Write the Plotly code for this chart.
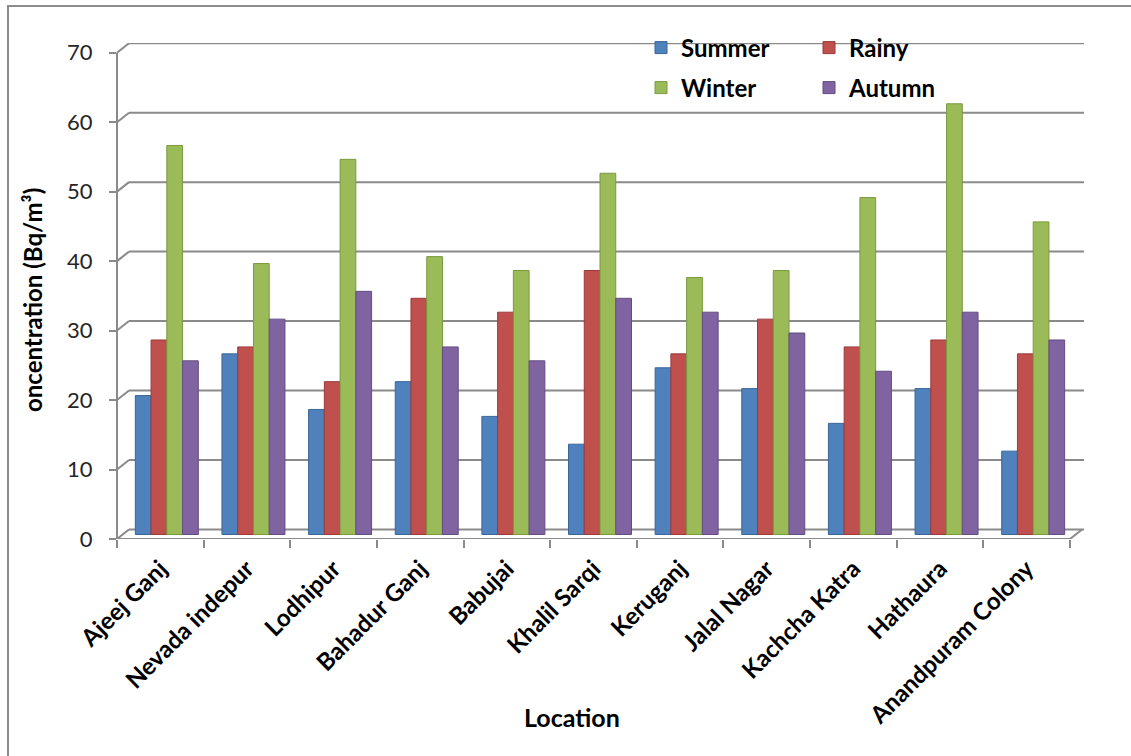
import plotly.graph_objects as go

# Indoor radon concentration by location and season (Bq/m³)
locations = ["Ajeej Ganj", "Nevada indepur", "Lodhipur", "Bahadur Ganj", "Babujai",
             "Khalil Sarqi", "Keruganj", "Jalal Nagar", "Kachcha Katra", "Hathaura",
             "Anandpuram Colony"]
summer = [20, 26, 18, 22, 17, 13, 24, 21, 16, 21, 12]
rainy = [28, 27, 22, 34, 32, 38, 26, 31, 27, 28, 26]
winter = [56, 39, 54, 40, 38, 52, 37, 38, 48.5, 62, 45]
autumn = [25, 31, 35, 27, 25, 34, 32, 29, 23.5, 32, 28]
y_ticks = [0, 10, 20, 30, 40, 50, 60, 70]

series = [
    ("Summer", summer, "#4F81BD", "#3A6699", "legend"),
    ("Rainy", rainy, "#C0504D", "#9A3B39", "legend"),
    ("Winter", winter, "#9BBB59", "#7A9A3E", "legend2"),
    ("Autumn", autumn, "#8064A2", "#634C82", "legend2"),
]

# page geometry (pixels)
W, H = 1131, 756
L, R, T, B = 117, 1084, 43, 539
PW, PH = R - L, B - T
n = len(locations)
front_end = 1070                      # right end of the front category axis
cat_px = (front_end - L) / n          # pixels per category
y_px = 486.3 / 70                     # pixels per unit on the value axis
depth_dx, depth_dy = 12, 9.5          # offset of the back wall
bar_dx, bar_dy = 6.5, 4.5             # bars sit half-way into the depth

x_rng = [-0.5, -0.5 + PW / cat_px]
y_rng = [0, PH / y_px]
xb_rng = [x_rng[0] - bar_dx / cat_px, x_rng[1] - bar_dx / cat_px]
yb_rng = [y_rng[0] - bar_dy / y_px, y_rng[1] - bar_dy / y_px]

GRID = "#8A8A8A"

fig = go.Figure()
xs = list(range(n))
for name, vals, col, edge, lg in series:
    fig.add_trace(go.Bar(
        x=xs, y=vals, name=name, xaxis="x2", yaxis="y2", legend=lg,
        marker=dict(color=col, line=dict(color=edge, width=1)),
    ))


def px_to_paper_x(px):
    return (px - L) / PW


def px_to_paper_y(py):
    return (B - py) / PH


shapes = []
# back-wall gridlines with the short diagonal joining them to the front axis
for v in y_ticks:
    shapes.append(dict(type="line", xref="paper", yref="y", ysizemode="pixel", yanchor=v,
                       x0=0, x1=depth_dx / PW, y0=0, y1=depth_dy,
                       line=dict(color=GRID, width=2), layer="below"))
    shapes.append(dict(type="line", xref="paper", yref="y", ysizemode="pixel", yanchor=v,
                       x0=depth_dx / PW, x1=1, y0=depth_dy, y1=depth_dy,
                       line=dict(color=GRID, width=2), layer="below"))
# floor: front edge and right-hand diagonal
shapes.append(dict(type="line", xref="x", yref="y", x0=-0.5, x1=n - 0.5, y0=0, y1=0,
                   line=dict(color=GRID, width=2)))
shapes.append(dict(type="line", xref="x", yref="y", ysizemode="pixel", yanchor=0,
                   x0=n - 0.5, x1=n - 0.5 + depth_dx / cat_px, y0=0, y1=depth_dy,
                   line=dict(color=GRID, width=2)))
# front value axis line
shapes.append(dict(type="line", xref="paper", yref="y", x0=0, x1=0, y0=0, y1=70,
                   line=dict(color=GRID, width=2)))
# chart frame (left and top edges)
shapes.append(dict(type="line", xref="paper", yref="paper",
                   x0=px_to_paper_x(8), x1=px_to_paper_x(8),
                   y0=px_to_paper_y(6), y1=px_to_paper_y(H + 5),
                   line=dict(color="#8C8C8C", width=2)))
shapes.append(dict(type="line", xref="paper", yref="paper",
                   x0=px_to_paper_x(7), x1=px_to_paper_x(W + 5),
                   y0=px_to_paper_y(6), y1=px_to_paper_y(6),
                   line=dict(color="#8C8C8C", width=2)))

FONT = "Lato"
LEG_FONT = dict(size=24, family=FONT, weight="bold", color="#000000")
fig.update_layout(
    width=W, height=H,
    margin=dict(l=L, r=W - R, t=T, b=H - B, pad=0),
    paper_bgcolor="white", plot_bgcolor="rgba(0,0,0,0)",
    barmode="group", bargap=0.273, bargroupgap=0,
    font=dict(family=FONT, color="#000000"),
    xaxis=dict(range=x_rng, tickmode="array", tickvals=xs, ticktext=locations,
               tickangle=-45, ticks="", showgrid=False, zeroline=False, showline=False,
               ticklabelstandoff=10,
               tickfont=dict(size=24, family=FONT, weight="bold", color="#000000"),
               minor=dict(tickmode="array", tickvals=[i - 0.5 for i in range(n + 1)],
                          ticks="outside", ticklen=8, tickwidth=2, tickcolor=GRID,
                          showgrid=False)),
    yaxis=dict(range=y_rng, tickmode="array", tickvals=y_ticks, ticks="outside",
               ticklen=7, tickwidth=2, tickcolor=GRID, showgrid=False, zeroline=False,
               showline=False, ticklabelstandoff=12,
               tickfont=dict(size=22, family=FONT, color="#262626")),
    xaxis2=dict(range=xb_rng, overlaying="x", visible=False),
    yaxis2=dict(range=yb_rng, overlaying="y", visible=False),
    legend=dict(orientation="h", x=px_to_paper_x(641), y=px_to_paper_y(48),
                xanchor="left", yanchor="middle", entrywidth=123, entrywidthmode="pixels",
                font=LEG_FONT, bgcolor="rgba(0,0,0,0)", itemclick=False),
    legend2=dict(orientation="h", x=px_to_paper_x(641), y=px_to_paper_y(88),
                 xanchor="left", yanchor="middle", entrywidth=123, entrywidthmode="pixels",
                 font=LEG_FONT, bgcolor="rgba(0,0,0,0)", itemclick=False),
    shapes=shapes,
    annotations=[
        dict(text="oncentration (Bq/m³)", xref="paper", yref="paper",
             x=px_to_paper_x(33), y=px_to_paper_y(300), textangle=-90, showarrow=False,
             xanchor="center", yanchor="middle",
             font=dict(size=24, family=FONT, weight="bold", color="#000000")),
        dict(text="Location", xref="paper", yref="paper",
             x=px_to_paper_x(572), y=px_to_paper_y(717), showarrow=False,
             xanchor="center", yanchor="middle",
             font=dict(size=25, family=FONT, weight="bold", color="#000000")),
    ],
)

fig.write_html("out.html")
